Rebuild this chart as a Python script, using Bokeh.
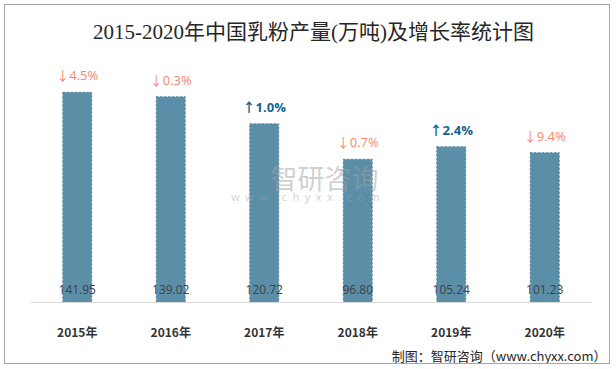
from bokeh.plotting import figure
from bokeh.models import ColumnDataSource, Range1d, Label, Title
from bokeh.core.properties import value
from bokeh.embed import file_html
from bokeh.resources import INLINE

years = ["2015年", "2016年", "2017年", "2018年", "2019年", "2020年"]
output = [141.95, 139.02, 120.72, 96.80, 105.24, 101.23]
growth = [-4.5, -0.3, 1.0, -0.7, 2.4, -9.4]

up_x = [y for y, g in zip(years, growth) if g >= 0]
up_y = [o for o, g in zip(output, growth) if g >= 0]
up_t = ["↑%.1f%%" % abs(g) for g in growth if g >= 0]
dn_x = [y for y, g in zip(years, growth) if g < 0]
dn_y = [o for o, g in zip(output, growth) if g < 0]
dn_t = ["↓%.1f%%" % abs(g) for g in growth if g < 0]

src = ColumnDataSource(dict(x=years, top=output, lab=["%.2f" % v for v in output]))

p = figure(x_range=years, y_range=Range1d(0, 190.5), width=606, height=360,
           output_backend="svg", toolbar_location=None,
           min_border_left=25, min_border_right=20, min_border_top=15, min_border_bottom=55)
p.margin = (4, 4, 4, 4)
p.styles = {"border": "1px solid #A6A6A6"}
p.outline_line_color = None
p.xgrid.grid_line_color = None
p.ygrid.grid_line_color = None
p.yaxis.visible = False
p.background_fill_color = "white"
p.border_fill_color = "white"
p.title.visible = False

p.add_layout(Title(text="制图：智研咨询（www.chyxx.com）", align="right",
                   text_font="Noto Sans CJK SC", text_font_size="13px",
                   text_font_style="normal", text_color="#262626",
                   offset=-15, standoff=2), "below")

xa = p.xaxis[0]
xa.axis_line_color = "#D9D9D9"
xa.major_tick_line_color = None
xa.minor_tick_line_color = None
xa.major_label_standoff = 14
xa.major_label_text_font = "Noto Sans CJK SC"
xa.major_label_text_font_style = "bold"
xa.major_label_text_font_size = "12px"
xa.major_label_text_color = "#333333"

# title (drawn inside the top of the frame)
p.add_layout(Label(x=307, y=25, x_units="canvas", y_units="canvas",
                   text="2015-2020年中国乳粉产量(万吨)及增长率统计图",
                   text_font="Liberation Serif, Noto Sans CJK SC", text_font_size="21px",
                   text_color="#262626", text_align="center", text_baseline="middle"))

# watermark
p.add_layout(Label(x=318, y=171, x_units="canvas", y_units="canvas", text="智研咨询",
                   text_font="Noto Sans CJK SC", text_font_size="27px",
                   text_color="#A0A0A0", text_alpha=0.5, text_align="center",
                   text_baseline="middle"))
p.add_layout(Label(x=299, y=190, x_units="canvas", y_units="canvas",
                   text="\u2002".join("www.chyxx.com"),
                   text_font="Open Sans", text_font_size="11px",
                   text_color="#A0A0A0", text_alpha=0.5, text_align="center",
                   text_baseline="middle"))

p.vbar(x="x", top="top", width=0.31, source=src, fill_color="#5B8FA8",
       line_color="#52869F", line_dash="2 2", line_width=1)

p.text(x="x", y=0, text="lab", source=src, y_offset=-13, text_align="center",
       text_baseline="middle", text_font=value("Open Sans"), text_font_size="12px",
       text_color="#404040")

p.text(x=dn_x, y=dn_y, text=dn_t, y_offset=-17, text_align="center",
       text_baseline="middle", text_font=value("Open Sans, Noto Sans CJK SC"),
       text_font_size="13px", text_color="#F4876E")
p.text(x=up_x, y=up_y, text=up_t, y_offset=-17, text_align="center",
       text_baseline="middle", text_font=value("Open Sans, Noto Sans CJK SC"),
       text_font_size="13px", text_font_style="bold", text_color="#14638F")

open("out.html", "w").write(file_html(p, INLINE))
